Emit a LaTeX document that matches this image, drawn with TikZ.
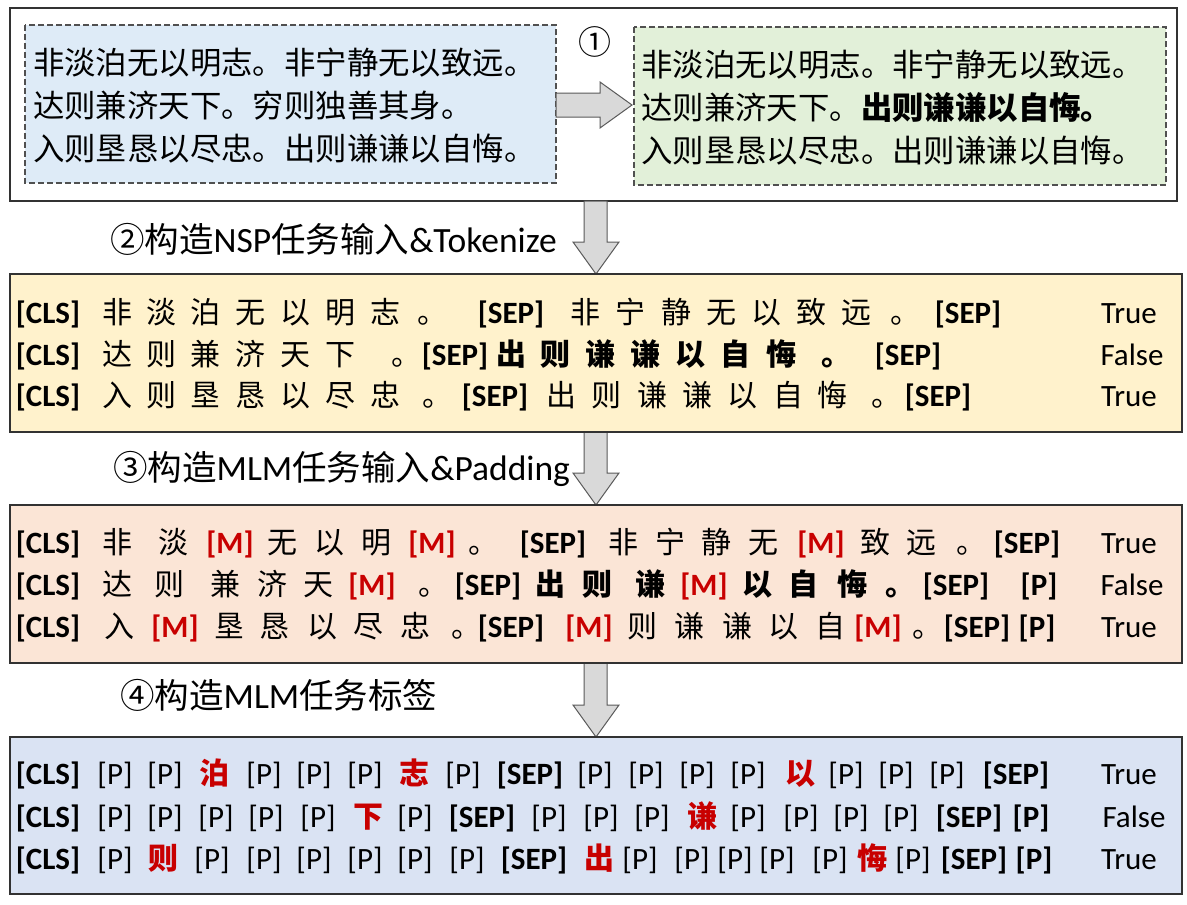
\documentclass[tikz,border=0pt]{standalone}
\usepackage{fontspec}
\setmainfont{Carlito}
\newfontfamily\cjk{Noto Sans CJK SC}
\definecolor{boxline}{RGB}{50,50,50}
\definecolor{dashline}{RGB}{80,80,80}
\definecolor{arrline}{RGB}{90,90,90}
\definecolor{arrfill}{RGB}{217,217,217}
\definecolor{fblue}{RGB}{222,235,247}
\definecolor{fgreen}{RGB}{226,240,217}
\definecolor{fyellow}{RGB}{255,242,204}
\definecolor{fpeach}{RGB}{251,229,214}
\definecolor{flav}{RGB}{218,227,243}
\definecolor{tred}{RGB}{200,0,0}
\newcommand\zh[1]{{\cjk\fontsize{30}{30}\selectfont #1}}
\newcommand\zb[1]{{\cjk\bfseries\fontsize{30}{30}\selectfont #1}}
\newcommand\zr[1]{{\cjk\bfseries\fontsize{30}{30}\selectfont\color{tred}#1}}
\newcommand\hz[1]{{\cjk\fontsize{34.5}{34.5}\selectfont #1}}
\newcommand\tkCLS{\textbf{[CLS]}}
\newcommand\tkSEP{\textbf{[SEP]}}
\newcommand\tkM{\textcolor{tred}{\textbf{[M]}}}
\newcommand\tkP{[P]}
\newcommand\tkPb{\textbf{[P]}}
\begin{document}
\begin{tikzpicture}[x=1pt,y=-1pt,
  outer/.style={draw=boxline,line width=1.4pt},
  dbox/.style={draw=dashline,dash pattern=on 6pt off 3pt,line width=1.2pt},
  barrow/.style={draw=arrline,fill=arrfill,line width=1pt,line join=miter},
  tok/.style={inner sep=0pt,anchor=base,font=\fontsize{31}{31}\selectfont},
  bigtxt/.style={inner sep=0pt,anchor=base west,font=\cjk\fontsize{31.4}{31.4}\selectfont},
  head/.style={inner sep=0pt,anchor=base west,font=\fontsize{35.5}{35.5}\selectfont}]
\useasboundingbox (0,0) rectangle (1187,905);
\fill[white] (0,0) rectangle (1187,905);

% ---------- box 1 ----------
\draw[outer] (10,8) rectangle (1177,201);
\draw[dbox,fill=fblue] (25,25) rectangle (556,183);
\draw[dbox,fill=fgreen] (634,27) rectangle (1166,185);
\node[bigtxt] (b1) at (33,74) {非淡泊无以明志。非宁静无以致远。};
\node[bigtxt] (b2) at (33,117) {达则兼济天下。穷则独善其身。};
\node[bigtxt] (b3) at (33,160) {入则垦恳以尽忠。出则谦谦以自悔。};
\node[bigtxt] (g1) at (641,76) {非淡泊无以明志。非宁静无以致远。};
\node[bigtxt] (g2) at (641,119) {达则兼济天下。{\bfseries 出则谦谦以自悔。}};
\node[bigtxt] (g3) at (641,162) {入则垦恳以尽忠。出则谦谦以自悔。};
\node[inner sep=0pt,font=\cjk\fontsize{33}{33}\selectfont] (n1) at (595,42) {①};
\draw[barrow] (556,93) -- (600,93) -- (600,82) -- (632,105) -- (600,128) -- (600,117) -- (556,117) -- cycle;

% ---------- arrows down ----------
\draw[barrow] (584,201) -- (607,201) -- (607,242) -- (619,242) -- (596,274) -- (573,242) -- (584,242) -- cycle;
\draw[barrow] (584,432) -- (607,432) -- (607,473) -- (619,473) -- (596,505) -- (573,473) -- (584,473) -- cycle;
\draw[barrow] (584,663) -- (607,663) -- (607,705) -- (619,705) -- (596,737) -- (573,705) -- (584,705) -- cycle;

% ---------- headings ----------
\node[head] (h2) at (110,252) {\hz{②构造}NSP\hz{任务输入}\&Tokenize};
\node[head] (h3) at (113,480) {\hz{③构造}MLM\hz{任务输入}\&Padding};
\node[head] (h4) at (120,708) {\hz{④构造}MLM\hz{任务标签}};

% ---------- box 2 ----------
\draw[outer,fill=fyellow] (10,274) rectangle (1182,432);
\foreach \x/\t [count=\i] in {48/\tkCLS, 117/\zh{非}, 161/\zh{淡}, 205/\zh{泊}, 250/\zh{无}, 295/\zh{以}, 340/\zh{明}, 385/\zh{志}, 432/\zh{。}, 511/\tkSEP, 585/\zh{非}, 630/\zh{宁}, 676/\zh{静}, 721/\zh{无}, 766/\zh{以}, 811/\zh{致}, 856/\zh{远}, 905/\zh{。}, 968/\tkSEP, 1129/True}
  \node[tok] (a1-\i) at (\x,323) {\t};
\foreach \x/\t [count=\i] in {48/\tkCLS, 117/\zh{达}, 161/\zh{则}, 205/\zh{兼}, 250/\zh{济}, 295/\zh{天}, 340/\zh{下}, 406/\zh{。}, 455/\tkSEP, 511/\zb{出}, 555/\zb{则}, 600/\zb{谦}, 645/\zb{谦}, 690/\zb{以}, 735/\zb{自}, 781/\zb{悔}, 836/\zb{。}, 908/\tkSEP, 1132/False}
  \node[tok] (a2-\i) at (\x,365) {\t};
\foreach \x/\t [count=\i] in {48/\tkCLS, 117/\zh{入}, 161/\zh{则}, 205/\zh{垦}, 250/\zh{恳}, 295/\zh{以}, 340/\zh{尽}, 385/\zh{忠}, 437/\zh{。}, 495/\tkSEP, 561/\zh{出}, 606/\zh{则}, 652/\zh{谦}, 697/\zh{谦}, 742/\zh{以}, 788/\zh{自}, 832/\zh{悔}, 886/\zh{。}, 938/\tkSEP, 1129/True}
  \node[tok] (a3-\i) at (\x,406) {\t};

% ---------- box 3 ----------
\draw[outer,fill=fpeach] (10,505) rectangle (1182,663);
\foreach \x/\t [count=\i] in {48/\tkCLS, 117/\zh{非}, 173/\zh{淡}, 230/\tkM, 282/\zh{无}, 329/\zh{以}, 376/\zh{明}, 432/\tkM, 483/\zh{。}, 553/\tkSEP, 623/\zh{非}, 670/\zh{宁}, 716/\zh{静}, 763/\zh{无}, 821/\tkM, 875/\zh{致}, 921/\zh{远}, 971/\zh{。}, 1027/\tkSEP, 1129/True}
  \node[tok] (m1-\i) at (\x,553) {\t};
\foreach \x/\t [count=\i] in {48/\tkCLS, 117/\zh{达}, 169/\zh{则}, 225/\zh{兼}, 272/\zh{济}, 318/\zh{天}, 372/\tkM, 433/\zh{。}, 488/\tkSEP, 550/\zb{出}, 597/\zb{则}, 650/\zb{谦}, 704/\tkM, 757/\zb{以}, 803/\zb{自}, 852/\zb{悔}, 900/\zb{。}, 956/\tkSEP, 1039/\tkPb, 1132/False}
  \node[tok] (m2-\i) at (\x,595) {\t};
\foreach \x/\t [count=\i] in {48/\tkCLS, 119/\zh{入}, 175/\tkM, 229/\zh{垦}, 274/\zh{恳}, 322/\zh{以}, 368/\zh{尽}, 415/\zh{忠}, 466/\zh{。}, 511/\tkSEP, 589/\tkM, 642/\zh{则}, 689/\zh{谦}, 737/\zh{谦}, 783/\zh{以}, 830/\zh{自}, 878/\tkM, 927/\zh{。}, 977/\tkSEP, 1037/\tkPb, 1129/True}
  \node[tok] (m3-\i) at (\x,637) {\t};

% ---------- box 4 ----------
\draw[outer,fill=flav] (10,737) rectangle (1182,894);
\foreach \x/\t [count=\i] in {48/\tkCLS, 115/\tkP, 165/\tkP, 214/\zr{泊}, 264/\tkP, 314/\tkP, 365/\tkP, 414/\zr{志}, 463/\tkP, 530/\tkSEP, 595/\tkP, 646/\tkP, 697/\tkP, 748/\tkP, 800/\zr{以}, 846/\tkP, 896/\tkP, 947/\tkP, 1016/\tkSEP, 1129/True}
  \node[tok] (l1-\i) at (\x,784) {\t};
\foreach \x/\t [count=\i] in {48/\tkCLS, 115/\tkP, 165/\tkP, 216/\tkP, 266/\tkP, 318/\tkP, 368/\zr{下}, 415/\tkP, 482/\tkSEP, 549/\tkP, 601/\tkP, 652/\tkP, 702/\zr{谦}, 748/\tkP, 801/\tkP, 851/\tkP, 901/\tkP, 969/\tkSEP, 1031/\tkPb, 1134/False}
  \node[tok] (l2-\i) at (\x,827) {\t};
\foreach \x/\t [count=\i] in {48/\tkCLS, 115/\tkP, 163/\zr{则}, 212/\tkP, 264/\tkP, 314/\tkP, 365/\tkP, 415/\tkP, 467/\tkP, 534/\tkSEP, 599/\zr{出}, 640/\tkP, 692/\tkP, 735/\tkP, 777/\tkP, 830/\tkP, 872/\zr{悔}, 913/\tkP, 974/\tkSEP, 1034/\tkPb, 1129/True}
  \node[tok] (l3-\i) at (\x,869) {\t};
\end{tikzpicture}
\end{document}
